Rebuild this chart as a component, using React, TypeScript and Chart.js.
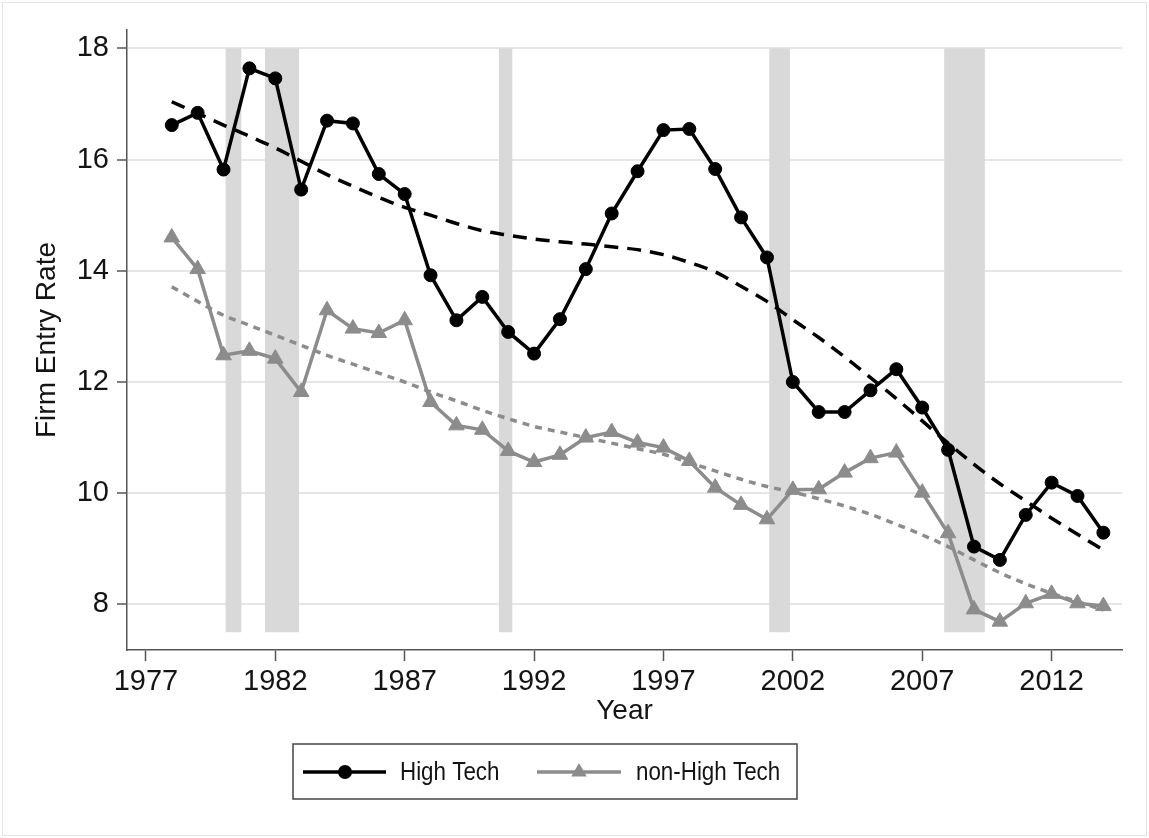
import React, { useEffect, useRef } from 'react';
import { Chart, registerables } from 'chart.js';

Chart.register(...registerables);

const years = [1978, 1979, 1980, 1981, 1982, 1983, 1984, 1985, 1986, 1987, 1988, 1989, 1990, 1991, 1992, 1993, 1994, 1995, 1996, 1997, 1998, 1999, 2000, 2001, 2002, 2003, 2004, 2005, 2006, 2007, 2008, 2009, 2010, 2011, 2012, 2013, 2014];

const highTech = [16.62, 16.84, 15.82, 17.64, 17.46, 15.46, 16.70, 16.65, 15.74, 15.38, 13.92, 13.11, 13.53, 12.90, 12.51, 13.13, 14.03, 15.03, 15.79, 16.53, 16.55, 15.83, 14.96, 14.24, 12.00, 11.46, 11.46, 11.85, 12.23, 11.54, 10.78, 9.04, 8.80, 9.61, 10.19, 9.95, 9.29];

const nonHighTech = [14.60, 14.03, 12.48, 12.56, 12.42, 11.82, 13.29, 12.96, 12.88, 13.11, 11.64, 11.22, 11.14, 10.76, 10.56, 10.69, 11.00, 11.10, 10.91, 10.82, 10.58, 10.10, 9.79, 9.53, 10.06, 10.07, 10.37, 10.63, 10.73, 10.01, 9.28, 7.91, 7.69, 8.02, 8.19, 8.02, 7.97];

const highTechTrend = [17.04, 16.83, 16.62, 16.42, 16.21, 15.97, 15.73, 15.52, 15.32, 15.14, 15.00, 14.85, 14.72, 14.64, 14.57, 14.52, 14.48, 14.43, 14.38, 14.29, 14.15, 13.98, 13.72, 13.45, 13.12, 12.80, 12.45, 12.08, 11.70, 11.30, 10.90, 10.52, 10.17, 9.86, 9.55, 9.26, 8.98];

const nonHighTechTrend = [13.71, 13.45, 13.20, 13.02, 12.84, 12.66, 12.48, 12.32, 12.16, 12.00, 11.82, 11.66, 11.49, 11.34, 11.20, 11.10, 11.00, 10.90, 10.80, 10.70, 10.55, 10.40, 10.25, 10.12, 10.02, 9.90, 9.77, 9.62, 9.44, 9.25, 9.04, 8.80, 8.57, 8.37, 8.20, 8.05, 7.90];

const recessionStarts = [1980.08, 1981.6, 1990.64, 2001.09, 2007.85];
const recessionEnds = [1980.69, 1982.92, 1991.16, 2001.89, 2009.42];
const shadeLow = 7.5;
const shadeHigh = 18;

const xTicks = [1977, 1982, 1987, 1992, 1997, 2002, 2007, 2012];
const yTicks = [8, 10, 12, 14, 16, 18];

const legendLabels = ['High Tech', 'non-High Tech'];

const FONT = '"Liberation Sans", Arial, Helvetica, sans-serif';
const HT_COLOR = '#000000';
const NHT_COLOR = '#8c8c8c';
const AXIS_COLOR = '#555555';
const TEXT_COLOR = '#141414';

const toPoints = (vals: number[]) => years.map((yr, i) => ({ x: yr, y: vals[i] }));

const shadePlugin = {
  id: 'recessionShade',
  beforeDatasetsDraw(chart: any) {
    const { ctx, scales } = chart;
    const x = scales.x;
    const y = scales.y;
    const top = y.getPixelForValue(shadeHigh);
    const bottom = y.getPixelForValue(shadeLow);
    ctx.save();
    ctx.fillStyle = '#d9d9d9';
    recessionStarts.forEach((s, i) => {
      const x0 = x.getPixelForValue(s);
      const x1 = x.getPixelForValue(recessionEnds[i]);
      ctx.fillRect(x0, top, x1 - x0, bottom - top);
    });
    ctx.restore();
  },
};

const legendPlugin = {
  id: 'boxLegend',
  afterDraw(chart: any) {
    const { ctx, width, height } = chart;
    ctx.save();
    ctx.strokeStyle = '#e4e4e4';
    ctx.lineWidth = 1;
    ctx.strokeRect(2.5, 2.5, width - 5, height - 5);

    const bx = 293, by = 744, bw = 504, bh = 55;
    ctx.strokeStyle = '#444444';
    ctx.lineWidth = 1.5;
    ctx.strokeRect(bx, by, bw, bh);
    const cy = 772;

    ctx.strokeStyle = HT_COLOR;
    ctx.lineWidth = 3.5;
    ctx.beginPath();
    ctx.moveTo(303, cy);
    ctx.lineTo(386, cy);
    ctx.stroke();
    ctx.fillStyle = HT_COLOR;
    ctx.beginPath();
    ctx.arc(345, cy, 7, 0, Math.PI * 2);
    ctx.fill();

    ctx.strokeStyle = NHT_COLOR;
    ctx.beginPath();
    ctx.moveTo(537, cy);
    ctx.lineTo(621, cy);
    ctx.stroke();
    ctx.fillStyle = NHT_COLOR;
    const r = 9;
    ctx.beginPath();
    ctx.moveTo(579, cy - r);
    ctx.lineTo(579 + r * Math.sin((2 * Math.PI) / 3), cy + r / 2);
    ctx.lineTo(579 - r * Math.sin((2 * Math.PI) / 3), cy + r / 2);
    ctx.closePath();
    ctx.fill();

    ctx.fillStyle = TEXT_COLOR;
    ctx.font = `26px ${FONT}`;
    ctx.textBaseline = 'middle';
    ctx.textAlign = 'left';
    const sx = 0.86;
    ctx.save();
    ctx.translate(400, cy + 1);
    ctx.scale(sx, 1);
    ctx.fillText(legendLabels[0], 0, 0);
    ctx.restore();
    ctx.save();
    ctx.translate(636, cy + 1);
    ctx.scale(sx, 1);
    ctx.fillText(legendLabels[1], 0, 0);
    ctx.restore();
    ctx.restore();
  },
};

export default function App() {
  const canvasRef = useRef<HTMLCanvasElement | null>(null);

  useEffect(() => {
    const canvas = canvasRef.current;
    if (!canvas) return;
    const chart = new Chart(canvas, {
      type: 'line',
      data: {
        datasets: [
          {
            label: legendLabels[0],
            data: toPoints(highTech),
            borderColor: HT_COLOR,
            backgroundColor: HT_COLOR,
            borderWidth: 3.5,
            pointStyle: 'circle',
            pointRadius: 6.5,
            pointBorderWidth: 1,
            pointBackgroundColor: HT_COLOR,
            pointBorderColor: HT_COLOR,
            tension: 0,
          },
          {
            label: legendLabels[1],
            data: toPoints(nonHighTech),
            borderColor: NHT_COLOR,
            backgroundColor: NHT_COLOR,
            borderWidth: 3.5,
            pointStyle: 'triangle',
            pointRadius: 9,
            pointBorderWidth: 1,
            pointBackgroundColor: NHT_COLOR,
            pointBorderColor: NHT_COLOR,
            tension: 0,
          },
          {
            label: 'High Tech trend',
            data: toPoints(highTechTrend),
            borderColor: HT_COLOR,
            borderWidth: 3.5,
            borderDash: [14, 9],
            pointRadius: 0,
            cubicInterpolationMode: 'monotone',
          },
          {
            label: 'non-High Tech trend',
            data: toPoints(nonHighTechTrend),
            borderColor: NHT_COLOR,
            borderWidth: 3.5,
            borderDash: [7, 6],
            pointRadius: 0,
            cubicInterpolationMode: 'monotone',
          },
        ],
      },
      options: {
        responsive: false,
        animation: false,
        devicePixelRatio: 1,
        layout: { padding: { top: 30, right: 27, bottom: 110, left: 0 } },
        plugins: {
          legend: { display: false },
          tooltip: { enabled: false },
        },
        scales: {
          x: {
            type: 'linear',
            min: 1976.27,
            max: 2014.72,
            afterBuildTicks: (s: any) => {
              s.ticks = xTicks.map((v) => ({ value: v }));
            },
            afterFit: (s: any) => {
              s.height = 78;
            },
            grid: {
              drawOnChartArea: false,
              drawTicks: true,
              tickLength: 11,
              tickColor: AXIS_COLOR,
              tickWidth: 1.5,
            },
            border: { display: true, color: AXIS_COLOR, width: 1.5 },
            ticks: {
              autoSkip: false,
              maxRotation: 0,
              padding: 4,
              color: TEXT_COLOR,
              font: { family: FONT, size: 29 },
              callback: (v: any) => String(v),
            },
            title: {
              display: true,
              text: 'Year',
              color: TEXT_COLOR,
              font: { family: FONT, size: 28 },
              padding: 0,
            },
          },
          y: {
            type: 'linear',
            min: 7.18,
            max: 18.33,
            afterBuildTicks: (s: any) => {
              s.ticks = yTicks.map((v) => ({ value: v }));
            },
            afterFit: (s: any) => {
              s.width = 127;
            },
            grid: {
              color: '#e6e6e6',
              lineWidth: 2,
              drawTicks: true,
              tickLength: 10,
              tickColor: AXIS_COLOR,
              tickWidth: 1.5,
            },
            border: { display: true, color: AXIS_COLOR, width: 1.5 },
            ticks: {
              padding: 8,
              color: TEXT_COLOR,
              font: { family: FONT, size: 29 },
              callback: (v: any) => String(v),
            },
            title: {
              display: true,
              text: 'Firm Entry Rate',
              color: TEXT_COLOR,
              font: { family: FONT, size: 28 },
              padding: { top: 30, bottom: 0 },
            },
          },
        },
      },
      plugins: [shadePlugin, legendPlugin],
    });
    return () => chart.destroy();
  }, []);

  return (
    <div style={{ position: 'absolute', left: 0, top: 0, width: 1149, height: 838, background: '#ffffff' }}>
      <canvas ref={canvasRef} width={1149} height={838} style={{ display: 'block' }} />
    </div>
  );
}
